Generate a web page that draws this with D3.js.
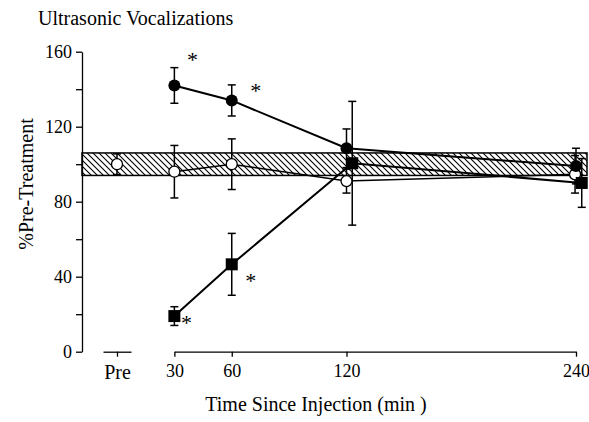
<!DOCTYPE html>
<html>
<head>
<meta charset="utf-8">
<script src="https://cdn.jsdelivr.net/npm/d3@7"></script>
<style>
  body { margin: 0; background: #fff; }
  text { font-family: "Liberation Serif", "DejaVu Serif", serif; fill: #000; }
</style>
</head>
<body>
<div id="chart"></div>
<script>
// values (% of pre-treatment)
var times = [30, 60, 120, 240]
var preValue = 100, preErr = 5.5
var bandRange = [94, 106]

var filledCircleTimes = [30, 60, 120, 240]
var filledCircleValues = [142, 134, 108.5, 99]
var filledCircleErrors = [9.5, 8.3, 10.3, 9.5]

var openCircleTimes = [30, 60, 120, 239.5]
var openCircleValues = [96, 100, 91, 94.6]
var openCircleErrors = [14, 13.5, 6.4, 10]

var squareTimes = [30, 60, 123, 243]
var squareValues = [19, 46.6, 100.5, 90]
var squareErrors = [5, 16.5, 33, 13]

var yTicks = [0, 20, 40, 60, 80, 100, 120, 140, 160]
var xTicks = [30, 60, 120, 240]

// asterisks: which series / point they mark
var stars = [
    { series: "filled", i: 0, dx: 18, dy: -29 },
    { series: "filled", i: 1, dx: 24, dy: -13 },
    { series: "square", i: 1, dx: 19, dy: 13 },
    { series: "square", i: 0, dx: 12, dy: 3 }
]

var W = 589, H = 422

var svg = d3.select("#chart").append("svg")
    .attr("width", W)
    .attr("height", H)

var x = d3.scaleLinear().domain([0, 240]).range([117, 576])
var y = d3.scaleLinear().domain([0, 160]).range([351.7, 51.7])

// hatch pattern for the baseline band
var defs = svg.append("defs")
defs.append("pattern")
    .attr("id", "hatch")
    .attr("patternUnits", "userSpaceOnUse")
    .attr("width", 6)
    .attr("height", 6)
  .append("path")
    .attr("d", "M-1,5 L1,7 M0,0 L6,6 M5,-1 L7,1")
    .attr("stroke", "#000")
    .attr("stroke-width", 1.1)

// title
svg.append("text")
    .attr("x", 38)
    .attr("y", 25)
    .style("font-size", "20px")
    .text("Ultrasonic Vocalizations")

// band
svg.append("rect")
    .attr("x", 82)
    .attr("y", y(bandRange[1]))
    .attr("width", 587 - 82)
    .attr("height", y(bandRange[0]) - y(bandRange[1]))
    .attr("fill", "url(#hatch)")
    .attr("stroke", "#000")
    .attr("stroke-width", 1.5)

// y axis
var yAxis = d3.axisLeft(y)
    .tickValues(yTicks)
    .tickSize(6)
    .tickSizeOuter(0)
    .tickPadding(4)
    .tickFormat(function(d) { return d % 40 === 0 ? d : "" })

var gy = svg.append("g")
    .attr("transform", "translate(82,0)")
    .call(yAxis)
gy.selectAll("text").style("font-size", "18px").attr("font-family", null)
gy.selectAll("path, line").attr("stroke", "#000").attr("stroke-width", 1.3)

svg.append("text")
    .attr("transform", "translate(33,184) rotate(-90)")
    .attr("text-anchor", "middle")
    .style("font-size", "20px")
    .text("%Pre-Treatment")

// x axis, main part 30..240
var xMain = x.copy().domain([30, 240]).range([x(30), x(240)])
var gx = svg.append("g")
    .attr("transform", "translate(0," + y(0) + ")")
    .call(d3.axisBottom(xMain).tickValues(xTicks).tickSize(5).tickSizeOuter(0).tickPadding(8)
        .tickFormat(d3.format("d")))

// x axis, separate "Pre" stub
var xPre = d3.scalePoint().domain(["Pre"]).range([103, 131]).padding(0.5)
var gp = svg.append("g")
    .attr("transform", "translate(0," + y(0) + ")")
    .call(d3.axisBottom(xPre).tickSize(5).tickSizeOuter(0).tickPadding(8))

gx.selectAll(".tick text").style("font-size", "18px").attr("font-family", null)
gp.selectAll(".tick text").style("font-size", "20px").attr("font-family", null)
gx.selectAll("path, line").attr("stroke", "#000").attr("stroke-width", 1.3)
gp.selectAll("path, line").attr("stroke", "#000").attr("stroke-width", 1.3)

svg.append("text")
    .attr("x", 316)
    .attr("y", 411)
    .attr("text-anchor", "middle")
    .style("font-size", "20px")
    .text("Time Since Injection (min )")

// build series
function toPoints(ts, vs, es) {
    return ts.map(function(t, i) { return { t: t, v: vs[i], e: es[i] } })
}
var filled = toPoints(filledCircleTimes, filledCircleValues, filledCircleErrors)
var open = toPoints(openCircleTimes, openCircleValues, openCircleErrors)
var square = toPoints(squareTimes, squareValues, squareErrors)
var pre = [{ t: 0, v: preValue, e: preErr }]

var line = d3.line()
    .x(function(d) { return x(d.t) })
    .y(function(d) { return y(d.v) })

function drawErrors(data) {
    var g = svg.append("g").attr("stroke", "#000").attr("stroke-width", 1.5)
    data.forEach(function(d) {
        var cx = x(d.t)
        g.append("line").attr("x1", cx).attr("x2", cx).attr("y1", y(d.v + d.e)).attr("y2", y(d.v - d.e))
        g.append("line").attr("x1", cx - 4).attr("x2", cx + 4).attr("y1", y(d.v + d.e)).attr("y2", y(d.v + d.e))
        g.append("line").attr("x1", cx - 4).attr("x2", cx + 4).attr("y1", y(d.v - d.e)).attr("y2", y(d.v - d.e))
    })
}

drawErrors(open)
drawErrors(pre)
drawErrors(filled)
drawErrors(square)

svg.append("path").datum(open).attr("d", line)
    .attr("fill", "none").attr("stroke", "#000").attr("stroke-width", 1.5)
svg.append("path").datum(filled).attr("d", line)
    .attr("fill", "none").attr("stroke", "#000").attr("stroke-width", 2)
svg.append("path").datum(square).attr("d", line)
    .attr("fill", "none").attr("stroke", "#000").attr("stroke-width", 2)

svg.selectAll(".open-pt").data(open.concat(pre)).enter().append("circle")
    .attr("class", "open-pt")
    .attr("cx", function(d) { return x(d.t) })
    .attr("cy", function(d) { return y(d.v) })
    .attr("r", 5.5)
    .attr("fill", "#fff")
    .attr("stroke", "#000")
    .attr("stroke-width", 1.3)

svg.selectAll(".filled-pt").data(filled).enter().append("circle")
    .attr("class", "filled-pt")
    .attr("cx", function(d) { return x(d.t) })
    .attr("cy", function(d) { return y(d.v) })
    .attr("r", 6)
    .attr("fill", "#000")

svg.selectAll(".square-pt").data(square).enter().append("rect")
    .attr("class", "square-pt")
    .attr("x", function(d) { return x(d.t) - 6 })
    .attr("y", function(d) { return y(d.v) - 6 })
    .attr("width", 12)
    .attr("height", 12)
    .attr("fill", "#000")

var seriesByName = { filled: filled, square: square, open: open }
svg.selectAll(".star").data(stars).enter().append("text")
    .attr("class", "star")
    .attr("text-anchor", "middle")
    .style("font-size", "22px")
    .attr("x", function(s) { var d = seriesByName[s.series][s.i]; return x(d.t) + s.dx })
    .attr("y", function(s) { var d = seriesByName[s.series][s.i]; return y(d.v) + s.dy + 11 })
    .text("*")
</script>
</body>
</html>
